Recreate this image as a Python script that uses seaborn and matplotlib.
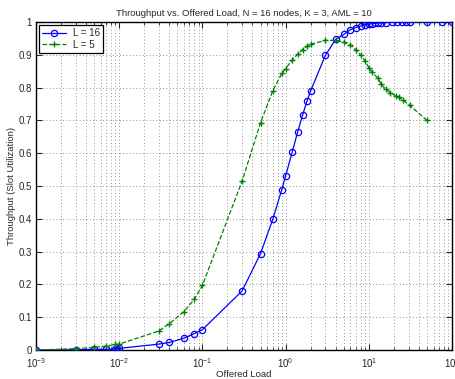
import matplotlib
matplotlib.use("Agg")
import matplotlib.pyplot as plt
import seaborn as sns
import numpy as np
import pandas as pd
from matplotlib.ticker import LogLocator, NullFormatter

# ---- data ----
x_l16 = [0.001, 0.003, 0.005, 0.007, 0.009, 0.0095, 0.01, 0.03, 0.04, 0.06, 0.08, 0.1,
         0.3, 0.5, 0.7, 0.9, 1.0, 1.2, 1.4, 1.6, 1.8, 2.0, 3, 4, 5, 6, 7, 8, 9, 10,
         11, 12, 13, 14, 16, 19, 22, 25, 28, 31, 50, 75, 100]
y_l16 = [0.0, 0.001, 0.002, 0.002, 0.004, 0.004, 0.005, 0.018, 0.023, 0.036, 0.050, 0.062,
         0.180, 0.294, 0.398, 0.489, 0.531, 0.603, 0.666, 0.716, 0.758, 0.790, 0.898, 0.947,
         0.962, 0.977, 0.983, 0.988, 0.991, 0.993, 0.995, 0.996, 0.997, 0.997, 0.998, 0.999,
         0.999, 0.999, 1.0, 1.0, 1.0, 1.0, 1.0]

x_l5 = [0.001, 0.003, 0.005, 0.007, 0.009, 0.01, 0.03, 0.04, 0.06, 0.08, 0.1,
        0.3, 0.5, 0.7, 0.9, 1.0, 1.2, 1.4, 1.6, 1.8, 2.0, 3, 4, 5, 6, 7, 8, 9, 10,
        11, 13, 14, 16, 18, 21, 23, 26, 31, 50]
y_l5 = [0.0, 0.004, 0.008, 0.012, 0.017, 0.018, 0.058, 0.080, 0.117, 0.155, 0.197,
        0.515, 0.693, 0.790, 0.843, 0.858, 0.884, 0.902, 0.916, 0.926, 0.932, 0.944, 0.944,
        0.938, 0.931, 0.915, 0.899, 0.882, 0.861, 0.846, 0.828, 0.810, 0.795, 0.785, 0.775,
        0.770, 0.761, 0.746, 0.700]

labels = ["L = 16", "L = 5"]
y_ticks = [0.0, 0.1, 0.2, 0.3, 0.4, 0.5, 0.6, 0.7, 0.8, 0.9, 1.0]
y_ticklabels = ["0", "0.1", "0.2", "0.3", "0.4", "0.5", "0.6", "0.7", "0.8", "0.9", "1"]
title = "Throughput vs. Offered Load, N = 16 nodes, K = 3, AML = 10"
xlabel = "Offered Load"
ylabel = "Throughput (Slot Utilization)"

# ---- style ----
sns.set_style("ticks")
plt.rcParams["font.family"] = ["Liberation Sans", "DejaVu Sans"]
plt.rcParams["mathtext.fontset"] = "custom"
plt.rcParams["mathtext.rm"] = "Liberation Sans"
plt.rcParams["mathtext.it"] = "Liberation Sans"

fig = plt.figure(figsize=(4.55, 3.79), dpi=100)
ax = fig.add_axes([0.079, 0.0765, 0.9145, 0.8655])

df16 = pd.DataFrame({"x": x_l16, "y": y_l16})
df5 = pd.DataFrame({"x": x_l5, "y": y_l5})

sns.lineplot(data=df16, x="x", y="y", ax=ax, color="#0000ff", marker="o",
             markersize=4.5, markerfacecolor="none", markeredgecolor="#0000ff",
             markeredgewidth=0.9, linewidth=0.9, label=labels[0], zorder=3)
sns.lineplot(data=df5, x="x", y="y", ax=ax, color="#008000", marker="+",
             markersize=5, markeredgecolor="#008000", markerfacecolor="#008000",
             markeredgewidth=1.0, linewidth=0.9, linestyle="--",
             dashes=(5, 4), label=labels[1], zorder=3)

ax.set_xscale("log")
ax.set_xlim(1e-3, 1e2)
ax.xaxis.set_major_locator(LogLocator(base=10, numticks=10))
ax.xaxis.set_minor_locator(LogLocator(base=10, subs=np.arange(2, 10), numticks=20))
ax.xaxis.set_minor_formatter(NullFormatter())
ax.set_yticks(y_ticks)
ax.set_yticklabels(y_ticklabels)
ax.set_ylim(0, 1)

ax.grid(True, which="major", linestyle=(0, (1, 3)), color="0.45", linewidth=0.6)
ax.grid(True, which="minor", axis="x", linestyle=(0, (1, 3)), color="0.45", linewidth=0.6)

ax.tick_params(which="both", direction="in", labelsize=7, top=True, right=True)
ax.tick_params(axis="x", pad=4.5)
ax.tick_params(axis="y", pad=3)
ax.tick_params(which="major", length=4, width=0.8)
ax.tick_params(which="minor", length=2, width=0.6)
for s in ax.spines.values():
    s.set_linewidth(1.0)
    s.set_color("black")

ax.set_title(title, fontsize=6.8, pad=4)
ax.set_xlabel(xlabel, fontsize=6.8, labelpad=0)
ax.set_ylabel(ylabel, fontsize=6.8, labelpad=2)

leg = ax.legend(loc="upper left", fontsize=7, frameon=True, fancybox=False,
                edgecolor="black", framealpha=1, borderaxespad=0.35,
                handlelength=2.4, borderpad=0.3, labelspacing=0.15)
leg.get_frame().set_linewidth(0.9)

fig.savefig("out.png", dpi=100)
